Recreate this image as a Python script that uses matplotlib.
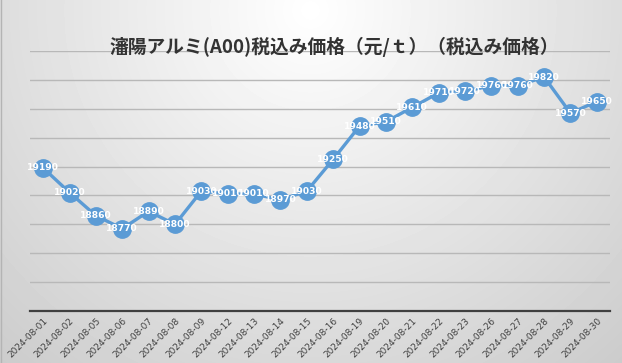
import matplotlib
matplotlib.use("Agg")
import matplotlib.pyplot as plt
import numpy as np

dates = ["2024-08-01", "2024-08-02", "2024-08-05", "2024-08-06", "2024-08-07",
         "2024-08-08", "2024-08-09", "2024-08-12", "2024-08-13", "2024-08-14",
         "2024-08-15", "2024-08-16", "2024-08-19", "2024-08-20", "2024-08-21",
         "2024-08-22", "2024-08-23", "2024-08-26", "2024-08-27", "2024-08-28",
         "2024-08-29", "2024-08-30"]
prices = [19190, 19020, 18860, 18770, 18890, 18800, 19030, 19010, 19010, 18970,
          19030, 19250, 19480, 19510, 19610, 19710, 19720, 19760, 19760, 19820,
          19570, 19650]
title = "瀋陽アルミ(A00)税込み価格（元/ｔ）（税込み価格）"

W, H = 622, 363
fig = plt.figure(figsize=(W / 100, H / 100), dpi=100)

# background gradient (light at top centre, gray towards corners)
bg = fig.add_axes([0, 0, 1, 1], zorder=-10)
yy, xx = np.mgrid[0:H, 0:W]
d = np.sqrt(((xx - 310) / 420.0) ** 2 + ((yy - 10) / 420.0) ** 2)
v = np.clip(1 - 0.18 * d, 0, 1)
bg.imshow(v, cmap="gray", vmin=0, vmax=1, aspect="auto", extent=[0, W, H, 0])
bg.plot([0.5, 0.5], [0, H], color="#b4b4b4", lw=1)
bg.set_xlim(0, W)
bg.set_ylim(H, 0)
bg.axis("off")

ax = fig.add_axes([30 / W, 52 / H, 580 / W, 260 / H])
ax.patch.set_alpha(0)
x = np.arange(len(dates))
ax.plot(x, prices, color="#5b9bd5", lw=2.4, marker="o", ms=12.5, zorder=3)
for xi, p in zip(x, prices):
    ax.text(xi, p, str(p), color="white", fontsize=6.6, fontweight="bold",
            ha="center", va="center", zorder=4)

ax.set_xlim(-0.5, len(dates) - 0.5)
ax.set_ylim(18200, 20000)
ax.set_yticks(np.arange(18200, 20001, 200))
ax.yaxis.grid(True, color="#b8b8b8", lw=1)
ax.set_axisbelow(True)
ax.tick_params(axis="y", left=False, labelleft=False)
ax.tick_params(axis="x", length=0, pad=4)
ax.set_xticks(x)
ax.set_xticklabels(dates, rotation=45, ha="right", rotation_mode="anchor",
                   fontsize=6.5, color="#404040")
for s in ["top", "right", "left"]:
    ax.spines[s].set_visible(False)
ax.spines["bottom"].set_color("#404040")
ax.spines["bottom"].set_linewidth(1.6)

fig.text(334 / W, 1 - 47 / H, title, ha="center", va="center", fontsize=13.5,
         fontweight="bold", color="#333333",
         family=["Noto Sans CJK JP", "DejaVu Sans"])

fig.savefig("out.png", dpi=100)
